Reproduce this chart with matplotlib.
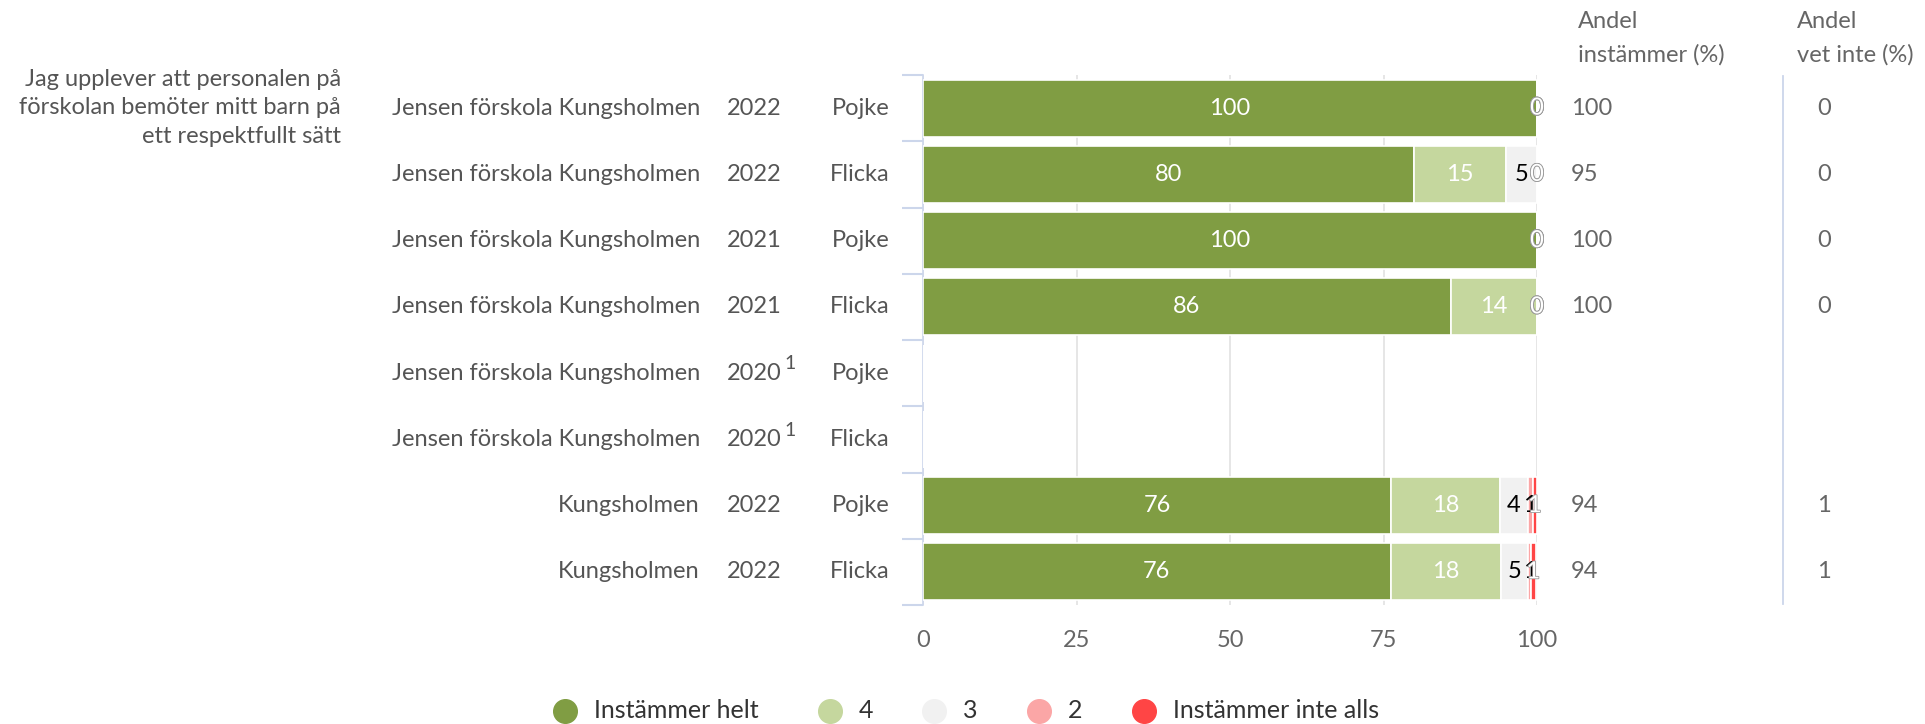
import numpy as np
import matplotlib.pyplot as plt
import matplotlib.patheffects as pe
from matplotlib.ticker import FixedLocator

plt.rcParams['font.family'] = ['Lato', 'DejaVu Sans']

# --- DATA ---
question = "Jag upplever att personalen på\nförskolan bemöter mitt barn på\nett respektfullt sätt"
units = ["Jensen förskola Kungsholmen"] * 6 + ["Kungsholmen"] * 2
years = ["2022", "2022", "2021", "2021", "2020", "2020", "2022", "2022"]
footnote = [False, False, False, False, True, True, False, False]
genders = ["Pojke", "Flicka", "Pojke", "Flicka", "Pojke", "Flicka", "Pojke", "Flicka"]

categories = ["Instämmer helt", "4", "3", "2", "Instämmer inte alls"]
helt = [100, 80, 100, 86, np.nan, np.nan, 76.3, 76.2]
v4 = [0, 15, 0, 14, np.nan, np.nan, 17.6, 18.0]
v3 = [0, 5, 0, 0, np.nan, np.nan, 4.6, 4.4]
v2 = [0, 0, 0, 0, np.nan, np.nan, 0.8, 0.4]
v1 = [0, 0, 0, 0, np.nan, np.nan, 0.7, 0.8]
series = [helt, v4, v3, v2, v1]
# labels as printed in the chart
lab_helt = ["100", "80", "100", "86", "", "", "76", "76"]
lab_4 = ["0", "15", "0", "14", "", "", "18", "18"]
lab_3 = ["0", "5", "0", "0", "", "", "4", "5"]
lab_2 = ["0", "0", "0", "0", "", "", "1", "1"]
lab_1 = ["0", "0", "0", "0", "", "", "1", "1"]
labels = [lab_helt, lab_4, lab_3, lab_2, lab_1]

andel_instammer = ["100", "95", "100", "100", "", "", "94", "94"]
andel_vet_inte = ["0", "0", "0", "0", "", "", "1", "1"]

colors = ["#809d43", "#c5d79e", "#f1f1f1", "#fba6a6", "#ff4545"]
label_colors = ["white", "white", "black", "black", "white"]

W, H = 1925, 724
fig = plt.figure(figsize=(W / 100, H / 100), dpi=100)
ax_l, ax_r, ax_t, ax_b = 923, 1537, 75, 605
ax = fig.add_axes([ax_l / W, 1 - ax_b / H, (ax_r - ax_l) / W, (ax_b - ax_t) / H])

n = len(units)
y = np.arange(n)
left = np.zeros(n)
fs = 17
for k, vals in enumerate(series):
    vals = np.array(vals, dtype=float)
    ax.barh(y, np.nan_to_num(vals), left=left, height=0.86, color=colors[k],
            edgecolor="white", linewidth=1.2, zorder=3)
    for i in range(n):
        if labels[k][i] == "":
            continue
        cx = left[i] + vals[i] / 2
        small = vals[i] < 1.5
        if small and label_colors[k] == "white" or vals[i] == 0:
            ax.text(cx, i, labels[k][i], ha="center", va="center", fontsize=fs,
                    color="white", zorder=5,
                    path_effects=[pe.withStroke(linewidth=1.2, foreground="#999999")])
        else:
            ax.text(cx, i, labels[k][i], ha="center", va="center", fontsize=fs,
                    color=label_colors[k], zorder=5)
    left = left + np.nan_to_num(vals)

ax.set_xlim(0, 100)
ax.set_ylim(n - 0.5, -0.5)
ax.set_xticks([0, 25, 50, 75, 100])
ax.tick_params(axis="x", length=0, pad=18, labelsize=fs, labelcolor="#666666")
ax.xaxis.grid(True, color="#e6e6e6", linewidth=1.4, zorder=0)
ax.set_axisbelow(True)
ax.yaxis.set_major_locator(FixedLocator(y))
ax.yaxis.set_minor_locator(FixedLocator(np.arange(-0.5, n, 1.0)))
ax.tick_params(axis="y", which="major", length=0, labelleft=False)
ax.tick_params(axis="y", which="minor", length=15, width=1.5, color="#ccd6eb", direction="out")
for s in ["top", "right", "bottom"]:
    ax.spines[s].set_visible(False)
ax.spines["left"].set_color("#ccd6eb")
ax.spines["left"].set_linewidth(1.2)

# category columns, x in pixels, y in data
def px(x):
    return (x - ax_l) / (ax_r - ax_l)

tr = ax.get_yaxis_transform()
txt_col = "#555555"
for i in range(n):
    ax.text(px(700), i, units[i], transform=tr, ha="right", va="center",
            fontsize=fs, color=txt_col, clip_on=False)
    ax.text(px(782), i, years[i], transform=tr, ha="right", va="center",
            fontsize=fs, color=txt_col, clip_on=False)
    if footnote[i]:
        ax.text(px(784), i - 0.14, "1", transform=tr, ha="left", va="center",
                fontsize=14, color=txt_col, clip_on=False)
    ax.text(px(890), i, genders[i], transform=tr, ha="right", va="center",
            fontsize=fs, color=txt_col, clip_on=False)
    ax.text(px(1571), i, andel_instammer[i], transform=tr, ha="left", va="center",
            fontsize=fs, color="#666666", clip_on=False)
    ax.text(px(1817), i, andel_vet_inte[i], transform=tr, ha="left", va="center",
            fontsize=fs, color="#666666", clip_on=False)

# overlay in pixel coordinates for headers, question, legend
ov = fig.add_axes([0, 0, 1, 1], facecolor="none")
ov.set_xlim(0, W)
ov.set_ylim(H, 0)
ov.axis("off")
ov.text(341, 108, question, ha="right", va="center", fontsize=fs, color=txt_col,
        linespacing=1.45, multialignment="right")
ov.text(1578, 22, "Andel", ha="left", va="center", fontsize=fs, color="#666666")
ov.text(1578, 55, "instämmer (%)", ha="left", va="center", fontsize=fs, color="#666666")
ov.text(1797, 22, "Andel", ha="left", va="center", fontsize=fs, color="#666666")
ov.text(1797, 55, "vet inte (%)", ha="left", va="center", fontsize=fs, color="#666666")
ov.plot([1783, 1783], [76, 604], color="#ccd6eb", linewidth=1.3)

leg_x = [565, 830, 934, 1039, 1144]
for cx, c, name in zip(leg_x, colors, categories):
    ov.plot([cx], [711], marker="o", markersize=17, color=c, linestyle="none")
    ov.text(cx + 29, 711, name, ha="left", va="center", fontsize=18, color="#333333")

fig.savefig("out.png", dpi=100)
